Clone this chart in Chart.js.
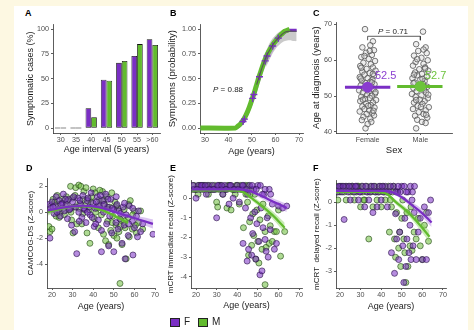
<!DOCTYPE html>
<html>
<head>
<meta charset="utf-8">
<script src="https://cdn.jsdelivr.net/npm/chart.js@4.4.1/dist/chart.umd.min.js"></script>
<style>
html, body { margin: 0; padding: 0; }
body { width: 474px; height: 330px; background: #fdf8e2; position: relative; overflow: hidden; font-family: "Liberation Sans", Arial, sans-serif; }
#sheet { position: absolute; left: 14px; top: 6px; width: 454px; height: 324px; background: #fff; }
canvas { position: absolute; }
.lbl { position: absolute; font-weight: bold; font-size: 9px; line-height: 1; color: #000; }
.txt { position: absolute; white-space: nowrap; line-height: 1; }
.box { position: absolute; width: 10px; height: 9px; box-sizing: border-box; border: 1px solid #222; }
</style>
</head>
<body>
<div id="sheet"></div>
<canvas id="cA" width="145" height="137" style="left:25px;top:18px"></canvas>
<canvas id="cB" width="146" height="139" style="left:167px;top:18px"></canvas>
<canvas id="cC" width="151" height="140" style="left:311px;top:16px"></canvas>
<canvas id="cD" width="139" height="140" style="left:26px;top:172px"></canvas>
<canvas id="cE" width="146" height="137" style="left:166px;top:174px"></canvas>
<canvas id="cF" width="144" height="138" style="left:312px;top:174px"></canvas>

<div class="lbl" style="left:25px;top:9px">A</div>
<div class="lbl" style="left:170px;top:9px">B</div>
<div class="lbl" style="left:313px;top:9px">C</div>
<div class="lbl" style="left:26px;top:164px">D</div>
<div class="lbl" style="left:170px;top:164px">E</div>
<div class="lbl" style="left:313px;top:164px">F</div>

<div class="txt" style="left:213px;top:86px;font-size:8px;color:#222"><i>P</i> = 0.88</div>
<div class="txt" style="left:378px;top:28px;font-size:8px;color:#222"><i>P</i> = 0.71</div>
<div class="txt" style="left:375px;top:70px;font-size:11px;color:#8b3fd0">52.5</div>
<div class="txt" style="left:425px;top:70px;font-size:11px;color:#6cc33c">52.7</div>

<div class="box" style="left:170px;top:318px;background:#7a2ec4"></div>
<div class="txt" style="left:184px;top:317px;font-size:10px;color:#222">F</div>
<div class="box" style="left:198px;top:318px;background:#62bb2e"></div>
<div class="txt" style="left:212px;top:317px;font-size:10px;color:#222">M</div>

<script>
// A: symptomatic cases by age interval
const ageGroups = ['30', '35', '40', '45', '50', '55', '>60'];
const casesF = [0, 0, 20, 49, 66, 73, 90];
const casesM = [0, 0, 11, 48, 68, 85, 84];

// B: cumulative probability of symptoms
const bAgeF = [28, 43, 44, 45, 46, 47, 48, 49, 50, 51, 52, 53, 54, 55, 56, 57, 58, 59, 60, 61, 62, 63, 64, 65, 66, 67, 68, 69];
const bProbF = [0, 0, 0.01, 0.03, 0.06, 0.10, 0.15, 0.21, 0.28, 0.35, 0.43, 0.51, 0.58, 0.65, 0.71, 0.76, 0.80, 0.84, 0.87, 0.90, 0.93, 0.95, 0.97, 0.98, 0.99, 0.99, 0.99, 0.99];
const bAgeM = [28, 43, 44, 45, 46, 47, 48, 49, 50, 51, 52, 53, 54, 55, 56, 57, 58, 59, 60, 61, 62, 63, 64, 65, 66];
const bProbM = [0, 0, 0.02, 0.04, 0.07, 0.11, 0.16, 0.22, 0.29, 0.36, 0.44, 0.52, 0.59, 0.66, 0.72, 0.77, 0.81, 0.85, 0.88, 0.91, 0.94, 0.96, 0.98, 0.99, 1.0];
const bAllAge = [52, 54, 56, 58, 60, 62, 64, 66, 68, 69];
const bAllProb = [0.44, 0.59, 0.72, 0.81, 0.88, 0.93, 0.97, 0.98, 0.98, 0.98];
const bBandAge = [56, 58, 60, 62, 64, 66, 68, 69];
const bBandLo = [0.62, 0.72, 0.80, 0.85, 0.88, 0.89, 0.88, 0.88];
const bBandHi = [0.78, 0.88, 0.94, 0.98, 1.0, 1.0, 1.0, 1.0];
const bBandFAge = [46, 48, 50, 52, 54, 56, 58, 60];
const bBandFLo = [0.04, 0.11, 0.22, 0.36, 0.51, 0.64, 0.74, 0.82];
const bBandFHi = [0.10, 0.19, 0.33, 0.49, 0.64, 0.77, 0.85, 0.91];
const bCensAge = [46.2, 46.8, 50.3, 50.8, 53.2, 55.6, 56.4, 58.8, 61.2];
const bCensProb = [0.066, 0.09, 0.30, 0.34, 0.52, 0.68, 0.73, 0.83, 0.91];

// C: age at diagnosis, [jitter, age]
const sexes = ['Female', 'Male'];
const meanAge = [52.5, 52.7];
const diagF = [[-0.05,68.7],[0.1,65.3],[0.05,64.2],[-0.1,63.6],[0.12,62.8],[-0.03,62.1],[0.08,61.5],[-0.12,60.9],[0.02,60.4],[0.14,59.8],[-0.08,59.3],[0.06,58.9],[-0.14,58.4],[0.1,58.0],[-0.02,57.6],[0.15,57.1],[-0.1,56.8],[0.04,56.4],[-0.06,56.0],[0.12,55.7],[-0.15,55.3],[0.0,55.0],[0.09,54.6],[-0.11,54.3],[0.05,54.0],[-0.04,53.6],[0.13,53.3],[-0.13,53.0],[0.07,52.7],[-0.07,52.2],[0.11,51.9],[-0.16,51.6],[0.02,51.3],[-0.09,51.0],[0.14,50.7],[-0.01,50.4],[0.08,50.1],[-0.12,49.8],[0.04,49.5],[-0.05,49.2],[0.16,48.9],[-0.14,48.6],[0.1,48.2],[-0.03,47.9],[0.06,47.5],[-0.1,47.1],[0.13,46.8],[-0.06,46.4],[0.03,46.0],[-0.15,45.7],[0.09,45.3],[-0.02,45.0],[0.12,44.6],[-0.08,44.2],[0.05,43.7],[-0.11,43.3],[0.07,42.8],[0.0,42.2],[-0.04,41.0],[0.1,56.2],[-0.12,57.9],[0.08,53.8],[-0.02,52.9],[0.15,51.1],[-0.09,49.0],[0.01,47.3],[-0.13,54.9],[0.11,45.9],[-0.06,61.2],[0.04,62.6]];
const diagM = [[0.05,68.0],[-0.08,64.5],[0.1,63.6],[-0.04,62.6],[0.12,62.0],[-0.12,61.3],[0.02,60.7],[0.14,60.0],[-0.09,59.5],[0.06,59.0],[-0.14,58.5],[0.09,58.0],[-0.02,57.5],[0.15,57.1],[-0.1,56.6],[0.03,56.2],[-0.06,55.8],[0.12,55.4],[-0.15,55.0],[0.0,54.6],[0.08,54.2],[-0.11,53.8],[0.05,53.4],[-0.04,53.0],[0.13,52.6],[-0.13,52.2],[0.07,51.8],[-0.07,51.4],[0.11,51.0],[-0.16,50.6],[0.02,50.2],[-0.09,49.8],[0.14,49.4],[-0.01,49.0],[0.08,48.6],[-0.12,48.2],[0.04,47.8],[-0.05,47.3],[0.16,46.9],[-0.14,46.4],[0.1,46.0],[-0.03,45.5],[0.06,45.0],[-0.1,44.5],[0.13,44.0],[-0.06,43.4],[0.03,42.8],[0.1,42.5],[-0.08,41.0],[0.09,57.7],[-0.12,56.0],[0.04,54.8],[-0.02,52.4],[0.15,50.4],[-0.08,48.9],[0.01,47.0],[-0.13,53.6],[0.11,44.8],[-0.06,60.3],[0.06,63.0]];

// D: CAMCOG-DS z-score, [age, z]
const camF = [[18.5,0.6],[19,-2.0],[19.5,0.3],[20,0.8],[21,-0.1],[21.5,0.5],[22,1.2],[23,0.2],[23.5,0.9],[24,-0.3],[25,0.7],[25.5,1.4],[26,0.1],[27,0.6],[27.5,-0.5],[28,1.0],[29,0.3],[29.5,-1.0],[30,0.8],[31,-1.5],[31.5,0.4],[32,-3.2],[32.5,1.1],[33,0.0],[34,0.6],[34.5,-0.4],[35,1.3],[36,0.2],[36.5,-0.8],[37,0.9],[38,0.4],[38.5,-0.2],[39,1.5],[40,0.7],[40.5,-1.1],[41,0.3],[42,1.2],[42.5,-0.6],[43,0.5],[44,-1.4],[44.5,0.9],[45,0.0],[44,-3.05],[46,1.4],[46.5,-0.9],[47,0.4],[47.5,-2.6],[48,-0.3],[48.5,1.0],[49,-1.6],[50,0.2],[50,-3.05],[51,-0.8],[51.5,0.6],[52,-1.3],[52.5,0.1],[53,-0.5],[54,-2.4],[54.5,0.4],[55,-1.0],[55.5,-3.6],[56,-0.2],[57,-1.8],[57.5,0.5],[59.3,-3.3],[59,-0.7],[60,-1.2],[61,-0.3],[62,0.1],[63,-1.5],[64,-0.9],[69,-1.7],[20.5,0.4],[22.5,0.0],[24.5,0.6],[26.5,1.0],[28.5,0.2],[30.5,1.2],[33.5,0.9],[35.5,0.3],[37.5,1.1],[39.5,-0.4],[41.5,0.8],[43.5,1.3],[45.2,0.6],[47.2,1.0],[49.2,0.3],[51.2,1.2],[53.2,-0.1],[55.2,0.7],[57.2,-0.9],[59.2,0.3],[61.5,-1.9],[33.2,-0.7],[41.2,-0.9],[37.2,0.0]];
const camM = [[18.5,-1.1],[19,-1.5],[19.5,0.5],[20,-1.3],[20.5,1.0],[21,0.2],[22,-0.3],[22.5,1.3],[23,0.6],[24,0.0],[25,1.0],[26,-0.2],[26.5,0.5],[27,1.2],[28,0.2],[29,2.0],[29.5,-0.6],[30,1.1],[31,0.4],[31.5,1.9],[32,-0.9],[33,2.1],[33.5,0.7],[34,2.0],[35,-0.1],[35.5,1.6],[36,0.5],[37,-1.6],[37.5,1.0],[38,0.2],[38.4,-2.4],[39,0.8],[40,1.8],[40.5,-0.5],[41,1.5],[42,0.3],[42.5,-1.2],[43,1.0],[44,-0.2],[44.5,1.6],[45,-1.7],[45.5,0.6],[46,-2.2],[46.5,1.2],[47,-0.7],[47.5,-2.5],[48,0.4],[48.5,-1.4],[49,1.5],[49.5,-0.3],[50,-1.8],[50.5,0.8],[51,-1.0],[51.5,-2.0],[52,0.3],[52.5,-1.5],[53,-5.5],[53.5,-0.6],[54,-2.5],[55,0.2],[55.5,-1.2],[56,-3.6],[57,-0.4],[57.5,-1.9],[58,0.9],[59,-1.3],[60,0.1],[61,-1.6],[62,-0.8],[63,0.1],[64,-1.3],[21.5,0.8],[23.5,-0.4],[25.5,0.3],[27.5,0.9],[29.2,0.0],[31.2,1.3],[33.2,0.3],[35.2,1.0],[36.5,1.9],[39.2,1.2],[41.2,0.0],[43.2,1.7],[45.2,0.9],[47.2,0.2],[49.2,-0.8],[51.2,0.5],[53.2,-1.1],[55.2,-0.7],[57.2,0.6],[59.2,-0.2],[60.5,-1.0],[30.2,-1.6],[34.5,-0.9],[42.2,0.5]];
const camFitAgeF = [18, 25, 30, 35, 40, 45, 50, 55, 60, 65, 69];
const camFitF = [0.15, 0.35, 0.45, 0.5, 0.45, 0.3, 0.05, -0.2, -0.45, -0.7, -0.9];
const camLoF = [-0.15, 0.2, 0.33, 0.4, 0.35, 0.18, -0.08, -0.35, -0.65, -1.0, -1.25];
const camHiF = [0.45, 0.5, 0.57, 0.6, 0.55, 0.42, 0.18, -0.05, -0.25, -0.4, -0.55];
const camFitAgeM = [18, 25, 30, 35, 40, 45, 50, 55, 57];
const camFitM = [0.0, 0.3, 0.45, 0.47, 0.38, 0.12, -0.25, -0.65, -0.82];
const camLoM = [-0.25, 0.15, 0.33, 0.37, 0.28, 0.0, -0.4, -0.85, -1.05];
const camHiM = [0.25, 0.45, 0.57, 0.57, 0.48, 0.24, -0.1, -0.45, -0.6];

// E: mCRT immediate recall, [age, z]
const immF = [[19,0.45],[20,0.0],[21,0.65],[22,0.45],[23,0.65],[24,0.45],[25,0.2],[26,0.65],[27,0.45],[28,0.65],[29,0.45],[30,-1.0],[31,0.65],[32,0.45],[33,0.2],[34,0.65],[35,0.45],[36,-0.3],[37,0.65],[38,0.0],[39,0.45],[40,0.65],[41,-0.2],[42,0.45],[43,0.65],[44,-0.5],[45,0.2],[45.5,-2.6],[46,0.65],[46.5,-1.0],[47,-2.9],[47.5,-1.8],[48,0.45],[48.5,-0.7],[49,-3.1],[49.5,-1.3],[50,0.65],[50.5,-2.2],[51,-3.9],[51.5,-0.5],[52,-3.7],[52.5,-1.5],[53,0.2],[53.5,-2.1],[54,-2.7],[54.5,-1.0],[55,-3.0],[55.5,0.45],[56,-1.6],[57,-0.3],[58,-2.6],[59,-2.3],[60,-0.4],[62,-0.5],[64,-0.4],[44.8,-3.2],[42.8,-2.3],[18.5,0.65],[20.5,0.45],[22.5,0.65],[24.5,0.65],[26.5,0.45],[28.5,0.45],[30.5,0.65],[32.5,0.65],[34.5,0.45],[36.5,0.65],[38.5,0.45],[40.5,0.45],[42.5,0.65],[44.5,0.45],[47.2,0.65],[49.2,0.45],[51.2,0.65],[53.5,0.45],[52.2,0.2],[56.2,0.2]];
const immM = [[18,0.45],[19,0.65],[20,0.45],[21,0.2],[22,0.65],[23,0.45],[24,0.65],[25,0.45],[26,0.2],[27,0.65],[28,0.45],[29,0.65],[30,-0.2],[30.5,-0.45],[31,0.45],[32,0.65],[33,0.2],[34,0.45],[35,-0.5],[36,0.65],[37,-0.6],[38,0.45],[39,0.2],[40,0.65],[41,-0.3],[42,0.45],[43,-1.5],[44,0.65],[45,-0.2],[45.5,-2.9],[46,-1.2],[46.5,0.45],[47,-2.4],[47.5,-0.8],[48,-1.9],[48.5,0.2],[49,-3.1],[49.5,-0.6],[50,-2.2],[50.5,-3.3],[51,-1.1],[52,-2.6],[52.5,-0.3],[53.5,-4.4],[53.5,-1.7],[54,-2.5],[55,-0.9],[55.5,-2.3],[56,-1.4],[57,-2.2],[58,-1.7],[59,-1.7],[61,-2.95],[63,-1.7],[60,-0.6],[19.5,0.45],[21.5,0.65],[23.5,0.65],[25.5,0.65],[27.5,0.45],[29.5,0.45],[31.5,0.65],[33.5,0.45],[35.5,0.65],[37.5,0.45],[39.5,0.65],[41.5,0.65],[43.5,0.45],[45.2,0.65],[44.2,0.2],[46.2,0.2]];
const immFitAgeF = [18, 30, 40, 45, 50, 55, 60, 64];
const immFitF = [0.45, 0.45, 0.45, 0.4, 0.2, -0.05, -0.3, -0.5];
const immLoF = [0.35, 0.4, 0.4, 0.33, 0.08, -0.2, -0.48, -0.7];
const immHiF = [0.55, 0.5, 0.5, 0.47, 0.32, 0.1, -0.12, -0.3];
const immFitAgeM = [18, 30, 40, 43, 47, 52, 57, 63];
const immFitM = [0.4, 0.4, 0.38, 0.3, 0.0, -0.4, -0.85, -1.5];
const immLoM = [0.3, 0.35, 0.33, 0.22, -0.12, -0.55, -1.05, -1.75];
const immHiM = [0.5, 0.45, 0.43, 0.38, 0.12, -0.25, -0.65, -1.25];

// F: mCRT delayed recall, [age, z]
const delF = [[19,0.45],[20,0.7],[21,0.45],[22,-0.75],[23,0.7],[24,0.45],[25,0.1],[26,0.7],[27,0.45],[28,0.7],[29,0.1],[30,0.45],[31,0.7],[32,-0.2],[33,0.45],[34,0.1],[35,0.7],[36,-0.45],[37,0.45],[38,-0.2],[39,0.7],[40,0.1],[41,0.45],[42,0.7],[43,-0.2],[44,0.45],[45,-2.2],[46,0.7],[46.5,-3.1],[47,-0.5],[47.5,-1.6],[48,0.45],[48.5,-2.5],[49,-1.3],[50,0.7],[50.5,-1.9],[51,-3.5],[51.5,-0.7],[52,-2.8],[52.5,-1.6],[53,0.45],[53.5,-2.2],[54,-1.0],[54.5,-2.5],[55,0.1],[55.5,-1.9],[56,-0.45],[57,-2.5],[58,-1.3],[59,-0.7],[60,-2.5],[61,-0.2],[62,-2.5],[63,-0.45],[64,0.1],[19.5,0.7],[21.5,0.7],[24.5,0.7],[27.5,0.7],[29.5,0.45],[32.5,0.7],[34.5,0.45],[36.5,0.7],[38.5,0.45],[40.5,0.7],[42.5,0.45],[44.5,0.7],[47.2,0.45],[48.2,0.7],[49.2,0.45],[51.2,0.7],[52.2,0.45],[54.2,0.7],[55.2,0.45],[56.2,0.7]];
const delM = [[18,0.7],[19,0.1],[20,0.45],[21,0.7],[22,0.45],[23,0.1],[24,0.7],[25,0.45],[26,0.7],[27,0.1],[28,0.45],[29,0.7],[30,-0.2],[31,0.45],[32,0.1],[33,0.7],[34,-1.6],[35,0.45],[36,-0.2],[37,0.7],[38,0.1],[39,0.45],[40,-0.2],[41,0.7],[42,0.1],[43,0.45],[44,-1.3],[45,-0.2],[46,0.7],[46.5,-1.6],[47,-2.4],[47.5,-0.45],[48,0.45],[48.5,-2.0],[49,-1.3],[49.5,-2.8],[50,-0.7],[50.5,0.1],[51,-1.6],[51.5,-2.2],[52,-3.5],[52.5,-0.45],[53,-2.8],[54,-1.9],[54.5,-0.2],[55,-2.1],[56,-1.3],[57,-1.6],[58,-0.7],[59,-1.9],[60,-2.5],[61,-1.0],[63,-1.7],[62,-0.45],[18.5,0.45],[20.5,0.7],[22.5,0.7],[25.5,0.7],[26.5,0.45],[28.5,0.7],[30.5,0.7],[31.5,0.1],[33.5,0.45],[35.5,0.7],[37.5,0.45],[39.5,0.7],[41.5,0.45],[43.5,0.7],[44.5,0.1],[45.5,0.45]];
const delFitAgeF = [18, 30, 40, 45, 50, 55, 60, 64.5];
const delFitF = [0.5, 0.5, 0.5, 0.45, 0.22, -0.12, -0.48, -0.88];
const delLoF = [0.42, 0.46, 0.46, 0.38, 0.12, -0.25, -0.65, -1.08];
const delHiF = [0.58, 0.54, 0.54, 0.52, 0.32, 0.01, -0.31, -0.68];
const delFitAgeM = [18, 30, 40, 43, 47, 52, 57, 63.5];
const delFitM = [0.45, 0.45, 0.43, 0.35, 0.02, -0.35, -0.8, -1.5];
const delLoM = [0.37, 0.41, 0.39, 0.28, -0.08, -0.48, -0.98, -1.75];
const delHiM = [0.53, 0.49, 0.47, 0.42, 0.12, -0.22, -0.62, -1.25];

const FONT = '"Liberation Sans", Arial, sans-serif';
const PURPLE = '#7a2ec4';
const GREEN = '#62bb2e';

function axis(o) {
  const a = {
    type: o.type || 'linear',
    offset: !!o.offset,
    border: { display: true, color: '#333', width: 0.8 },
    grid: { display: true, drawOnChartArea: false, drawTicks: true, tickLength: 2, color: '#333', lineWidth: 0.8, offset: false },
    ticks: { font: { family: FONT, size: 7.2 }, color: '#4d4d4d', padding: o.isY ? 2 : 0.5, autoSkip: false, maxRotation: 0 },
    title: { display: true, text: o.title, font: { family: FONT, size: o.tfs }, color: '#1a1a1a', padding: 0 },
    afterFit: s => { if (o.isY) s.width = o.size; else s.height = o.size; }
  };
  if (o.min !== undefined) { a.min = o.min; a.max = o.max; }
  if (o.ticks) a.afterBuildTicks = s => { s.ticks = o.ticks.map(v => ({ value: v })); };
  if (o.cb) a.ticks.callback = o.cb;
  return a;
}

function baseOptions(x, y) {
  return {
    responsive: false,
    animation: false,
    events: [],
    layout: { padding: { top: 6, right: 10, left: 0, bottom: 0 } },
    plugins: { legend: { display: false }, tooltip: { enabled: false } },
    scales: { x: x, y: y }
  };
}

const xy = (xs, ys) => xs.map((x, i) => ({ x: x, y: ys[i] }));
const pairs = a => a.map(p => ({ x: p[0], y: p[1] }));

function dots(data, fill, stroke, order, r) {
  return { data: data, showLine: false, pointRadius: r || 2.7, pointBackgroundColor: fill,
    pointBorderColor: stroke, pointBorderWidth: 0.8, order: order };
}
function curve(data, color, width, order) {
  return { data: data, borderColor: color, borderWidth: width, pointRadius: 0, tension: 0.4, fill: false, order: order };
}
// upper edge fills down to the dataset that follows it
function bandHi(data, color, order) {
  return { data: data, borderWidth: 0, pointRadius: 0, tension: 0.4, fill: '+1', backgroundColor: color, order: order };
}
function bandLo(data, order) {
  return { data: data, borderWidth: 0, pointRadius: 0, tension: 0.4, fill: false, order: order };
}

// A
new Chart(document.getElementById('cA'), {
  type: 'bar',
  data: {
    labels: ageGroups,
    datasets: [
      { data: casesF, backgroundColor: PURPLE, borderColor: '#111', borderWidth: 0.8, borderSkipped: false, minBarLength: 1 },
      { data: casesM, backgroundColor: GREEN, borderColor: '#111', borderWidth: 0.8, borderSkipped: false, minBarLength: 1 }
    ]
  },
  options: Object.assign(baseOptions(
    axis({ type: 'category', offset: true, title: 'Age interval (5 years)', tfs: 9, size: 22 }),
    axis({ min: -5, max: 105, ticks: [0, 25, 50, 75, 100], title: 'Symptomatic cases (%)', tfs: 9, size: 28, isY: true, cb: v => String(v) })
  ), { datasets: { bar: { categoryPercentage: 0.74, barPercentage: 1.0 } } })
});

// B
new Chart(document.getElementById('cB'), {
  type: 'line',
  data: {
    datasets: [
      curve(xy(bAllAge, bAllProb), '#555', 1.1, 1),
      { data: xy(bCensAge, bCensProb), showLine: false, pointStyle: 'cross', pointRadius: 3.5,
        pointBorderColor: PURPLE, pointBorderWidth: 1.4, order: 2 },
      Object.assign(curve(xy(bAgeM, bProbM), GREEN, 5, 3), { tension: 0.2 }),
      Object.assign(curve(xy(bAgeF, bProbF), PURPLE, 3, 4), { tension: 0.2 }),
      bandHi(xy(bBandFAge, bBandFHi), 'rgba(170,120,225,0.45)', 5),
      bandLo(xy(bBandFAge, bBandFLo), 6),
      bandHi(xy(bBandAge, bBandHi), 'rgba(150,150,150,0.5)', 7),
      bandLo(xy(bBandAge, bBandLo), 8)
    ]
  },
  options: baseOptions(
    axis({ min: 27.9, max: 71.7, ticks: [30, 40, 50, 60, 70], title: 'Age (years)', tfs: 9, size: 24, cb: v => String(v) }),
    axis({ min: -0.05, max: 1.05, ticks: [0, 0.25, 0.5, 0.75, 1], title: 'Symptoms (probability)', tfs: 9.5, size: 33, isY: true, cb: v => v.toFixed(2) })
  )
});

// C
const jit = (a, c) => a.map(p => ({ x: c + p[0], y: p[1] }));
new Chart(document.getElementById('cC'), {
  type: 'line',
  data: {
    datasets: [
      { data: [{ x: 1, y: 65.6 }, { x: 1, y: 66.7 }, { x: 2, y: 66.7 }, { x: 2, y: 65.6 }],
        borderColor: '#333', borderWidth: 0.8, pointRadius: 0, fill: false, order: 1 },
      { data: [{ x: 1, y: meanAge[0] }], showLine: false, pointRadius: 5.5, pointBackgroundColor: '#8a3cd0', pointBorderWidth: 0, order: 2 },
      { data: [{ x: 2, y: meanAge[1] }], showLine: false, pointRadius: 5.5, pointBackgroundColor: '#6cc33c', pointBorderWidth: 0, order: 2 },
      curve([{ x: 1, y: meanAge[0] - 1 }, { x: 1, y: meanAge[0] + 1 }], '#8a3cd0', 3.5, 3),
      curve([{ x: 2, y: meanAge[1] - 1 }, { x: 2, y: meanAge[1] + 1 }], '#6cc33c', 3.5, 3),
      curve([{ x: 0.57, y: meanAge[0] }, { x: 1.43, y: meanAge[0] }], '#7a2ec4', 3, 3),
      curve([{ x: 1.56, y: meanAge[1] }, { x: 2.42, y: meanAge[1] }], '#62bb2e', 3, 3),
      dots(jit(diagF, 1), 'rgba(205,205,205,0.35)', '#555', 5, 2.8),
      dots(jit(diagM, 2), 'rgba(205,205,205,0.35)', '#555', 5, 2.8)
    ]
  },
  options: baseOptions(
    axis({ min: 0.4, max: 2.6, ticks: [1, 2], title: 'Sex', tfs: 9.5, size: 23, cb: v => sexes[v - 1] }),
    axis({ min: 39.7, max: 70.6, ticks: [40, 50, 60, 70], title: 'Age at diagnosis (years)', tfs: 9.5, size: 25, isY: true, cb: v => String(v) })
  )
});

// D, E, F share the same layout
function scoreChart(id, ptsF, ptsM, fitF, fitM, xAxis, yAxis) {
  new Chart(document.getElementById(id), {
    type: 'line',
    data: {
      datasets: [
        curve(fitF.line, PURPLE, 2.2, 1),
        curve(fitM.line, GREEN, 2.2, 1),
        bandHi(fitF.hi, 'rgba(165,110,220,0.4)', 2),
        bandLo(fitF.lo, 3),
        bandHi(fitM.hi, 'rgba(120,205,70,0.4)', 2),
        bandLo(fitM.lo, 3),
        dots(pairs(ptsF), 'rgba(122,46,196,0.55)', 'rgba(45,20,75,0.8)', 4, 3),
        dots(pairs(ptsM), 'rgba(110,190,60,0.55)', 'rgba(40,75,25,0.8)', 5, 3)
      ]
    },
    options: baseOptions(xAxis, yAxis)
  });
}
const ageTicks = [20, 30, 40, 50, 60, 70];

scoreChart('cD', camF, camM,
  { line: xy(camFitAgeF, camFitF), lo: xy(camFitAgeF, camLoF), hi: xy(camFitAgeF, camHiF) },
  { line: xy(camFitAgeM, camFitM), lo: xy(camFitAgeM, camLoM), hi: xy(camFitAgeM, camHiM) },
  axis({ min: 17.57, max: 70, ticks: ageTicks, title: 'Age (years)', tfs: 9, size: 24, cb: v => String(v) }),
  axis({ min: -5.85, max: 2.62, ticks: [2, 0, -2, -4], title: 'CAMCOG-DS (Z-score)', tfs: 8, size: 21, isY: true, cb: v => String(v) }));

scoreChart('cE', immF, immM,
  { line: xy(immFitAgeF, immFitF), lo: xy(immFitAgeF, immLoF), hi: xy(immFitAgeF, immHiF) },
  { line: xy(immFitAgeM, immFitM), lo: xy(immFitAgeM, immLoM), hi: xy(immFitAgeM, immHiM) },
  axis({ min: 17.57, max: 71.4, ticks: ageTicks, title: 'Age (years)', tfs: 9, size: 23, cb: v => String(v) }),
  axis({ min: -4.57, max: 0.91, ticks: [0, -1, -2, -3, -4], title: 'mCRT immediate recall (Z-score)', tfs: 8, size: 25, isY: true, cb: v => String(v) }));

scoreChart('cF', delF, delM,
  { line: xy(delFitAgeF, delFitF), lo: xy(delFitAgeF, delLoF), hi: xy(delFitAgeF, delHiF) },
  { line: xy(delFitAgeM, delFitM), lo: xy(delFitAgeM, delLoM), hi: xy(delFitAgeM, delHiM) },
  axis({ min: 18.06, max: 71.5, ticks: ageTicks, title: 'Age (years)', tfs: 9, size: 24, cb: v => String(v) }),
  axis({ min: -3.74, max: 0.96, ticks: [0, -1, -2, -3], title: 'mCRT  delayed recall (Z-score)', tfs: 8, size: 24, isY: true, cb: v => String(v) }));
</script>
</body>
</html>
